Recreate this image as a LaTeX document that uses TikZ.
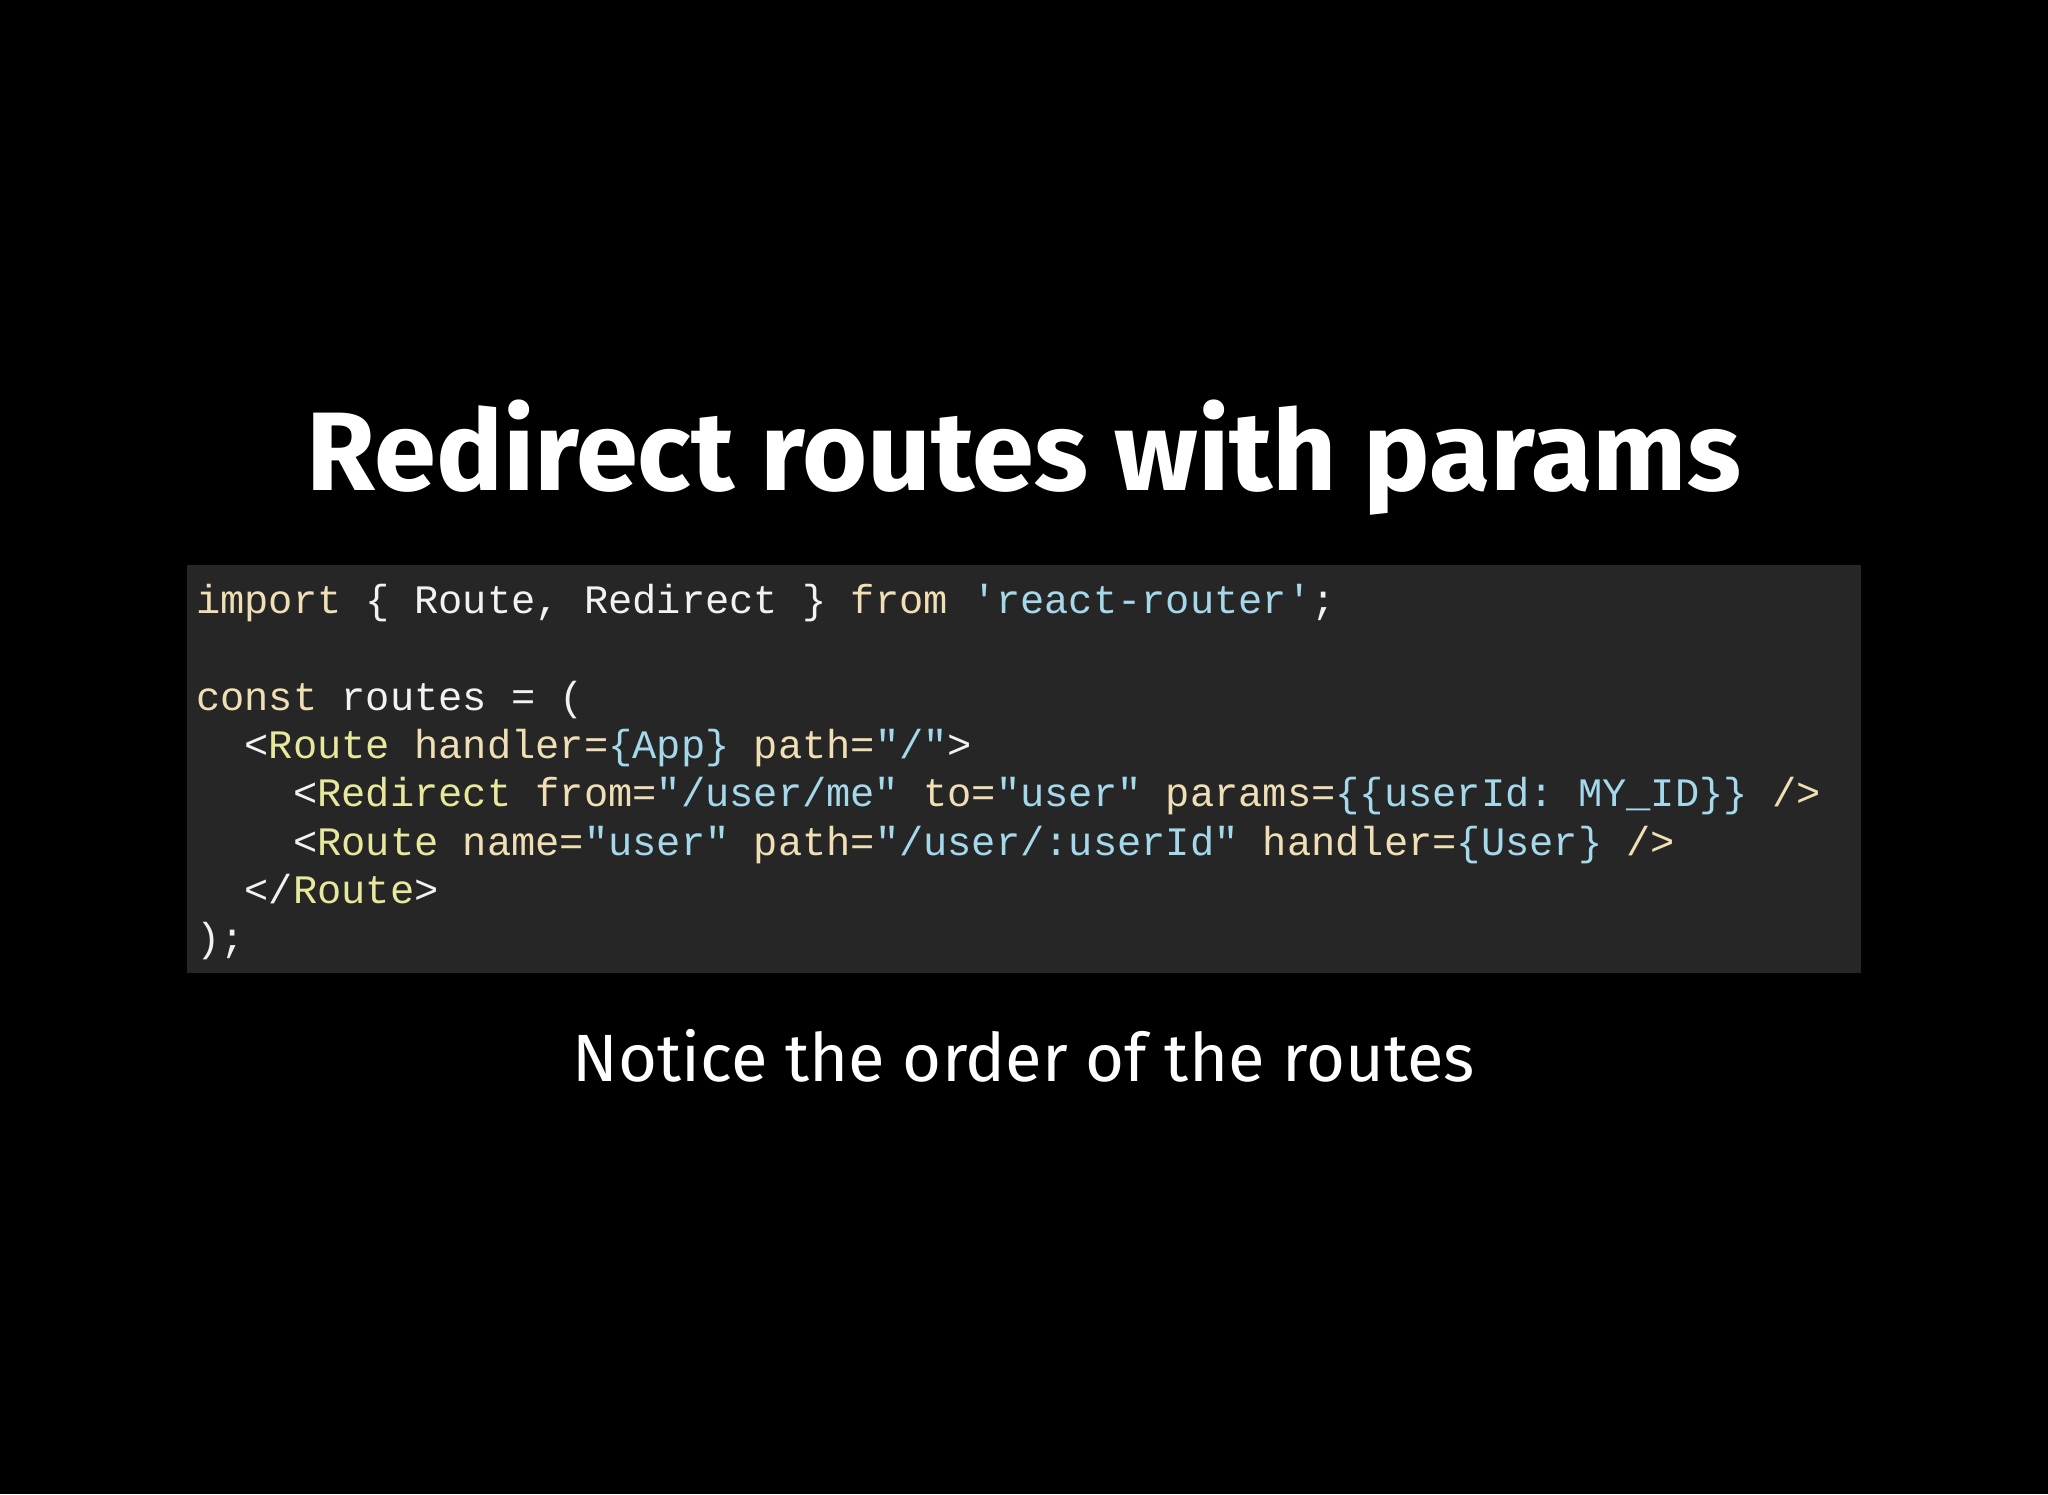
\documentclass[tikz,border=0pt]{standalone}
\usepackage{fontspec}
\setmainfont{Fira Sans}
\newfontfamily\codefont{Liberation Mono}
\definecolor{kw}{HTML}{F0DEB4}
\definecolor{tg}{HTML}{E8E89C}
\definecolor{st}{HTML}{A4D8EA}
\definecolor{wt}{HTML}{F2F2F2}
\definecolor{boxbg}{HTML}{262626}
\newcommand{\K}[1]{\textcolor{kw}{#1}}
\newcommand{\T}[1]{\textcolor{tg}{#1}}
\newcommand{\Sx}[1]{\textcolor{st}{#1}}
\frenchspacing
\begin{document}
\begin{tikzpicture}[x=1pt,y=-1pt,
  codeline/.style={anchor=base west,inner sep=0pt,text=wt,font=\codefont\frenchspacing\fontsize{40.4}{48}\selectfont}]
\fill[black] (0,0) rectangle (2048,1494);
\useasboundingbox (0,0) rectangle (2048,1494);
\fill[boxbg] (187,565) rectangle (1861,973);
\node[anchor=base,inner sep=0pt,text=white] (title) at (1024,490)
  {\resizebox{1434pt}{!}{\fontsize{118}{130}\selectfont\bfseries Redirect routes with params}};
\node[anchor=base,inner sep=0pt,text=white] (sub) at (1024,1081)
  {\resizebox{902pt}{!}{\fontsize{76}{90}\selectfont Notice the order of the routes}};
\def\cw{24.24}
\node[codeline] (l1) at (196,613) {\K{import} \{ Route, Redirect \} \K{from} \Sx{'react-router'};};
\node[codeline] (l3) at (196,710) {\K{const} routes = (};
\node[codeline] (l4) at (196+2*\cw,758) {<\T{Route} \K{handler=}\Sx{\{App\}} \K{path=}\Sx{"/"}>};
\node[codeline] (l5) at (196+4*\cw,806) {<\T{Redirect} \K{from=}\Sx{"/user/me"} \K{to=}\Sx{"user"} \K{params=}\Sx{\{\{userId: MY\_ID\}\}} \K{/>}};
\node[codeline] (l6) at (196+4*\cw,855) {<\T{Route} \K{name=}\Sx{"user"} \K{path=}\Sx{"/user/:userId"} \K{handler=}\Sx{\{User\}} \K{/>}};
\node[codeline] (l7) at (196+2*\cw,903) {</\T{Route}>};
\node[codeline] (l8) at (196,951) {);};
\end{tikzpicture}
\end{document}
